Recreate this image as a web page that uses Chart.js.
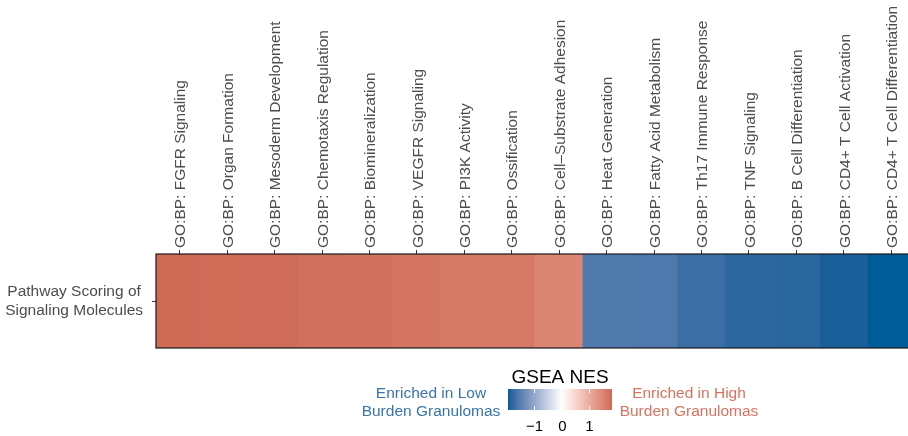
<!DOCTYPE html>
<html>
<head>
<meta charset="utf-8">
<script src="https://cdn.jsdelivr.net/npm/chart.js@4.4.0/dist/chart.umd.min.js"></script>
<style>
html, body { margin: 0; padding: 0; background: #fff; overflow: hidden; }
#wrap { width: 916px; height: 436px; }
</style>
</head>
<body>
<div id="wrap"><canvas id="heat" width="916" height="436"></canvas></div>
<script>
'use strict';
var pathways = [
    'GO:BP: FGFR Signaling',
    'GO:BP: Organ Formation',
    'GO:BP: Mesoderm Development',
    'GO:BP: Chemotaxis Regulation',
    'GO:BP: Biomineralization',
    'GO:BP: VEGFR Signaling',
    'GO:BP: PI3K Activity',
    'GO:BP: Ossification',
    'GO:BP: Cell\u2013Substrate Adhesion',
    'GO:BP: Heat Generation',
    'GO:BP: Fatty Acid Metabolism',
    'GO:BP: Th17 Immune Response',
    'GO:BP: TNF Signaling',
    'GO:BP: B Cell Differentiation',
    'GO:BP: CD4+ T Cell Activation',
    'GO:BP: CD4+ T Cell Differentiation'
];
var nes = [1.83, 1.81, 1.80, 1.76, 1.74, 1.70, 1.65, 1.63, 1.48,
           -1.55, -1.56, -1.70, -1.79, -1.80, -1.88, -1.94];
var rowLabel    = ['Pathway Scoring of', 'Signaling Molecules'];
var legendTitle = 'GSEA NES';
var legendTicks = [-1, 0, 1];
var lowText     = ['Enriched in Low', 'Burden Granulomas'];
var highText    = ['Enriched in High', 'Burden Granulomas'];

var FONT = '"Liberation Sans", Arial, Helvetica, sans-serif';

// colour scale: white in the middle, interpolated in Lab towards each end
function toLin(c) { c /= 255; return c <= 0.04045 ? c / 12.92 : Math.pow((c + 0.055) / 1.055, 2.4); }
function fromLin(c) {
    c = c <= 0.0031308 ? 12.92 * c : 1.055 * Math.pow(c, 1 / 2.4) - 0.055;
    return Math.round(Math.max(0, Math.min(1, c)) * 255);
}
function hexToLab(hex) {
    var r = toLin(parseInt(hex.substr(1, 2), 16)),
        g = toLin(parseInt(hex.substr(3, 2), 16)),
        b = toLin(parseInt(hex.substr(5, 2), 16));
    var x = (0.4124 * r + 0.3576 * g + 0.1805 * b) / 0.95047,
        y = (0.2126 * r + 0.7152 * g + 0.0722 * b),
        z = (0.0193 * r + 0.1192 * g + 0.9505 * b) / 1.08883;
    var f = function(t) { return t > 0.008856 ? Math.cbrt(t) : 7.787 * t + 16 / 116; };
    return [116 * f(y) - 16, 500 * (f(x) - f(y)), 200 * (f(y) - f(z))];
}
function labToRgb(lab) {
    var fy = (lab[0] + 16) / 116, fx = fy + lab[1] / 500, fz = fy - lab[2] / 200;
    var inv = function(t) { return t > 0.206893 ? t * t * t : (t - 16 / 116) / 7.787; };
    var x = inv(fx) * 0.95047, y = inv(fy), z = inv(fz) * 1.08883;
    var r =  3.2406 * x - 1.5372 * y - 0.4986 * z,
        g = -0.9689 * x + 1.8758 * y + 0.0415 * z,
        b =  0.0557 * x - 0.2040 * y + 1.0570 * z;
    return 'rgb(' + fromLin(r) + ',' + fromLin(g) + ',' + fromLin(b) + ')';
}
var highLab = hexToLab('#CE6A56'), lowLab = hexToLab('#005C98'), midLab = [100, 0, 0];
var highVal = Math.max.apply(null, nes), lowVal = Math.min.apply(null, nes);
function nesColour(v) {
    var end = v >= 0 ? highLab : lowLab;
    var t = v >= 0 ? v / highVal : v / lowVal;
    t = Math.max(0, Math.min(1, t));
    return labToRgb([
        midLab[0] + (end[0] - midLab[0]) * t,
        midLab[1] + (end[1] - midLab[1]) * t,
        midLab[2] + (end[2] - midLab[2]) * t
    ]);
}

var frame = {
    id : 'frame',
    afterDatasetsDraw : function(chart) {
        var a = chart.chartArea, ctx = chart.ctx;
        ctx.save();
        ctx.strokeStyle = '#1a1a1a';
        ctx.lineWidth = 1.2;
        ctx.strokeRect(a.left, a.top, a.right - a.left, a.bottom - a.top);
        ctx.restore();
    }
};

var colourLegend = {
    id : 'colourLegend',
    afterDraw : function(chart) {
        var ctx = chart.ctx;
        var x0 = 508, x1 = 612, y0 = 389, y1 = 410;
        ctx.save();
        ctx.textAlign = 'center';
        ctx.textBaseline = 'alphabetic';
        ctx.fillStyle = '#000';
        ctx.font = '19px ' + FONT;
        ctx.fillText(legendTitle, 560, 383);

        var grad = ctx.createLinearGradient(x0, 0, x1, 0);
        for (var i = 0; i <= 60; i++) {
            var v = lowVal + (highVal - lowVal) * i / 60;
            grad.addColorStop(i / 60, nesColour(v));
        }
        ctx.fillStyle = grad;
        ctx.fillRect(x0, y0, x1 - x0, y1 - y0);

        ctx.strokeStyle = '#fff';
        ctx.lineWidth = 1;
        ctx.font = '15px ' + FONT;
        legendTicks.forEach(function(t) {
            var x = Math.round(x0 + (t - lowVal) / (highVal - lowVal) * (x1 - x0)) + 0.5;
            ctx.beginPath();
            ctx.moveTo(x, y0); ctx.lineTo(x, y0 + 4);
            ctx.moveTo(x, y1 - 4); ctx.lineTo(x, y1);
            ctx.stroke();
            ctx.fillStyle = '#000';
            ctx.fillText(t < 0 ? '\u2212' + Math.abs(t) : String(t), x, 431);
        });

        ctx.font = '15.5px ' + FONT;
        ctx.fillStyle = '#3A74AA';
        ctx.fillText(lowText[0], 431, 398);
        ctx.fillText(lowText[1], 431, 416);
        ctx.fillStyle = '#D8735F';
        ctx.fillText(highText[0], 689, 398);
        ctx.fillText(highText[1], 689, 416);
        ctx.restore();
    }
};

var config = {
    type : 'bar',
    data : {
        labels : pathways,
        datasets : [{
            data : nes.map(function() { return 1; }),
            backgroundColor : nes.map(nesColour),
            borderWidth : 0,
            barPercentage : 1,
            categoryPercentage : 1
        }]
    },
    options : {
        responsive : false,
        animation : false,
        layout : { padding : { top : 0, left : 0, right : 1, bottom : 88 } },
        plugins : {
            legend : { display : false },
            tooltip : { enabled : false }
        },
        scales : {
            x : {
                position : 'top',
                grid : { offset : false, drawOnChartArea : false, tickLength : 4, color : '#333' },
                border : { display : false },
                ticks : {
                    autoSkip : false,
                    minRotation : 90,
                    maxRotation : 90,
                    padding : 2,
                    labelOffset : 20,
                    color : '#4D4D4D',
                    font : { family : FONT, size : 15.5 }
                },
                afterFit : function(scale) { scale.height = 254; }
            },
            y : {
                min : 0,
                max : 1,
                grid : { drawOnChartArea : false, tickLength : 4, color : '#333' },
                border : { display : false },
                afterBuildTicks : function(scale) { scale.ticks = [{ value : 0.5 }]; },
                ticks : {
                    crossAlign : 'center',
                    padding : 9,
                    color : '#4D4D4D',
                    font : { family : FONT, size : 15.5, lineHeight : 1.22 },
                    callback : function() { return rowLabel; }
                },
                afterFit : function(scale) { scale.width = 156; }
            }
        }
    },
    plugins : [frame, colourLegend]
};

var canvasHeat = document.getElementById('heat').getContext('2d');
window.heat = new Chart(canvasHeat, config);
</script>
</body>
</html>
